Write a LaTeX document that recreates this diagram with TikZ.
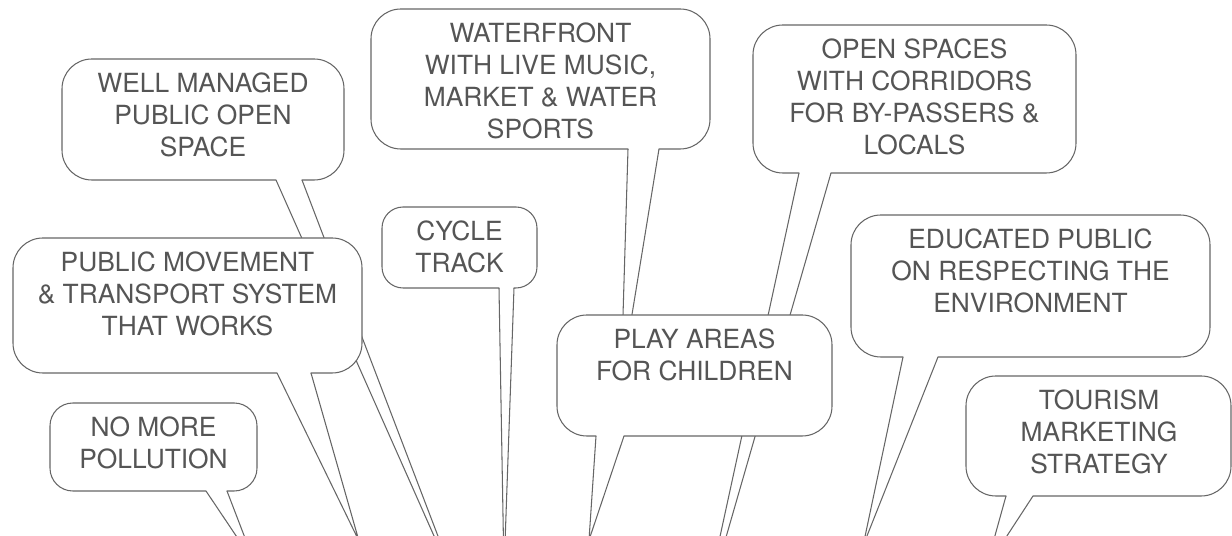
\documentclass[tikz,border=0pt]{standalone}
\usepackage{fontspec}
\setmainfont{TeX Gyre Heros}
\usepackage{tikz}
\definecolor{bubbleline}{HTML}{666666}
\definecolor{bubbletext}{HTML}{555555}
\tikzset{
  bubble/.style={draw=bubbleline, fill=white, line width=0.6pt, line cap=round, line join=round},
  wish/.style={anchor=north, inner sep=0pt, align=center, text=bubbletext,
    font=\fontsize{15}{18.2}\selectfont}
}

\begin{document}
\begin{tikzpicture}[x=0.02cm, y=-0.02cm]
          \useasboundingbox (0,0) rectangle (1232,536);
          \clip (0,0) rectangle (1232,536);

          % well managed open space
          \draw[bubble] (276,180) -- (462,599) -- (302,180);
          \draw[bubble, rounded corners=17pt] (302,180) -- (344,180) -- (344,59) -- (62,59) -- (62,180) -- (276,180);
          \node[wish] (managed) at (203,72.5) {WELL MANAGED\\PUBLIC OPEN\\SPACE};

          % public movement
          \draw[bubble] (277,373) -- (359,541) -- (311,373);
          \draw[bubble, rounded corners=17pt] (311,373) -- (362,373) -- (362,238) -- (13,238) -- (13,373) -- (277,373);
          \node[wish] (transport) at (187.5,251.5) {PUBLIC MOVEMENT\\\& TRANSPORT SYSTEM\\THAT WORKS};

          % no more pollution
          \draw[bubble] (206,491) -- (255,564) -- (227,491);
          \draw[bubble, rounded corners=13pt] (227,491) -- (257,491) -- (257,403) -- (50,403) -- (50,491) -- (206,491);
          \node[wish] (pollution) at (153.5,416.5) {NO MORE\\POLLUTION};

          % cycle track
          \draw[bubble] (499,288) -- (504,572) -- (514,288);
          \draw[bubble, rounded corners=12pt] (514,288) -- (537,288) -- (537,207) -- (382,207) -- (382,288) -- (499,288);
          \node[wish] (cycle) at (459.5,220.5) {CYCLE\\TRACK};

          % waterfront
          \draw[bubble] (628,149) -- (621,382) -- (659,149);
          \draw[bubble, rounded corners=17pt] (659,149) -- (710,149) -- (710,9) -- (371,9) -- (371,149) -- (628,149);
          \node[wish] (waterfront) at (540.5,22.5) {WATERFRONT\\WITH LIVE MUSIC,\\MARKET \& WATER\\SPORTS};

          % open spaces
          \draw[bubble] (799,173) -- (701,624) -- (831,173);
          \draw[bubble, rounded corners=17pt] (831,173) -- (1076,173) -- (1076,25) -- (753,25) -- (753,173) -- (799,173);
          \node[wish] (corridors) at (914.5,38.5) {OPEN SPACES\\WITH CORRIDORS\\FOR BY-PASSERS \&\\LOCALS};

          % play areas
          \draw[bubble] (596,436) -- (589,540) -- (624,436);
          \draw[bubble, rounded corners=17pt] (624,436) -- (832,436) -- (832,315) -- (557,315) -- (557,436) -- (596,436);
          \node[wish] (play) at (694.5,328.5) {PLAY AREAS\\FOR CHILDREN};

          % educated public
          \draw[bubble] (903,357) -- (863,546) -- (938,357);
          \draw[bubble, rounded corners=17pt] (938,357) -- (1210,357) -- (1210,215) -- (851,215) -- (851,357) -- (903,357);
          \node[wish] (educated) at (1030.5,228.5) {EDUCATED PUBLIC\\ON RESPECTING THE\\ENVIRONMENT};

          % tourism
          \draw[bubble] (1006,496) -- (986,568) -- (1033,496);
          \draw[bubble, rounded corners=17pt] (1033,496) -- (1231,496) -- (1231,376) -- (966,376) -- (966,496) -- (1006,496);
          \node[wish] (tourism) at (1099,389.5) {TOURISM\\MARKETING\\STRATEGY};
        \end{tikzpicture}
\end{document}
